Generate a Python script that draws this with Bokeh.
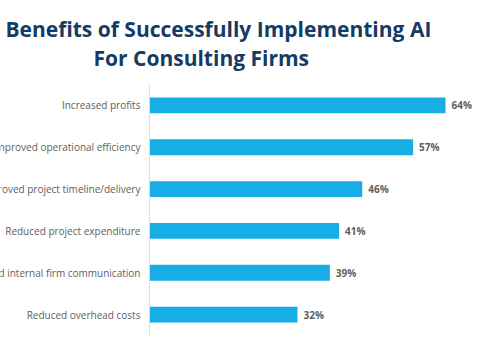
from bokeh.plotting import figure
from bokeh.layouts import column
from bokeh.models import ColumnDataSource, Range1d, FactorRange, Span
from bokeh.core.properties import value
from bokeh.embed import file_html
from bokeh.resources import INLINE

title_lines = ["Benefits of Successfully Implementing AI", "For Consulting Firms"]
categories = [
    "Increased profits",
    "Improved operational efficiency",
    "Improved project timeline/delivery",
    "Reduced project expenditure",
    "Improved internal firm communication",
    "Reduced overhead costs",
]
values = [64, 57, 46, 41, 39, 32]
value_labels = [f"{v}%" for v in values]

BAR = "#17aee6"
NAVY = "#133b63"
GRAY = "#5e5e5e"


def bare(fig):
    fig.axis.visible = False
    fig.grid.visible = False
    fig.outline_line_color = None
    fig.background_fill_color = "white"
    fig.border_fill_color = "white"


# --- title panel (pixel-like coordinates, y measured downward) ---
t = figure(width=485, height=84, output_backend="svg", toolbar_location=None,
           x_range=Range1d(0, 485), y_range=Range1d(84, 0),
           min_border=0)
bare(t)
t.text(x=[5, 93], y=[28, 57], text=title_lines,
       text_align="left", text_baseline="middle",
       text_font=value("Open Sans"), text_font_size="21px", text_font_style="bold",
       text_color=NAVY)

# --- bar chart ---
src = ColumnDataSource(dict(cat=categories, val=values, lab=value_labels))

p = figure(
    width=485, height=276, output_backend="svg", toolbar_location=None,
    y_range=FactorRange(factors=categories[::-1]),
    x_range=Range1d(-32.2, 72.65),
    min_border_left=0, min_border_right=0, min_border_top=0, min_border_bottom=25,
)
bare(p)

p.hbar(y="cat", right="val", left=0, height=0.38, source=src,
       fill_color=BAR, line_color=None)

p.add_layout(Span(location=0, dimension="height", line_color="#dedede", line_width=1))

p.text(x=0, y="cat", text="cat", source=src, x_offset=-9,
       text_align="right", text_baseline="middle",
       text_font=value("Open Sans"), text_font_size="10px", text_color=GRAY)

p.text(x="val", y="cat", text="lab", source=src, x_offset=6,
       text_align="left", text_baseline="middle",
       text_font=value("Open Sans"), text_font_size="10px", text_font_style="bold",
       text_color=GRAY)

layout = column(t, p, spacing=0)
open("out.html", "w").write(file_html(layout, INLINE))
